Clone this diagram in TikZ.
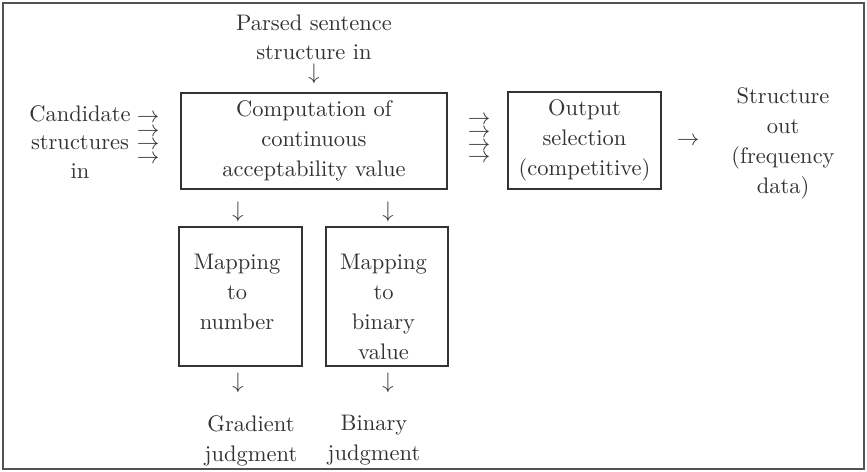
\documentclass[tikz,border=0pt]{standalone}
\usetikzlibrary{positioning}

\definecolor{ink}{gray}{0.2}
\tikzset{
    txt/.style={inner sep=0pt, align=center, text=ink, font=\fontsize{10}{13.3}\selectfont},
    stage/.style={draw=ink, line width=0.6pt, inner sep=0pt},
    arr/.style={inner sep=0pt, text=ink, text height=3.6pt, text depth=-1.4pt}
}

\begin{document}
\begin{tikzpicture}[x=0.4444pt, y=-0.4444pt]

    \useasboundingbox (0,0) rectangle (867,472);
    \draw[ink!85, line width=0.8pt] (3,3) rectangle (864,469);

    % boxes
    \node[stage, txt, minimum width=118.2pt, minimum height=42.7pt] at (314,141) (comp) {Computation of\\continuous\\acceptability value};
    \node[stage, txt, minimum width=68pt, minimum height=43.1pt] at (584.5,140.5) (outsel) {Output\\selection\\(competitive)};
    \node[stage, minimum width=54.7pt, minimum height=61.8pt] at (240.5,296.5) (mapnum) {};
    \node[stage, minimum width=54.2pt, minimum height=61.8pt] at (387,296.5) (mapbin) {};
    \node[txt, anchor=north] at (237,254) (mapnumtxt) {Mapping\\to\\number};
    \node[txt, anchor=north] at (383.5,254) (mapbintxt) {Mapping\\to\\binary\\value};

    % texts in and out
    \node[txt, anchor=north] at (314,14) (parsed) {Parsed sentence\\structure in};
    \node[txt, anchor=north, font=\fontsize{10}{12.7}\selectfont] at (80,105) (cand) {Candidate\\structures\\in};
    \node[txt, anchor=north] at (783,87) (strout) {Structure\\out\\(frequency\\data)};
    \node[txt, anchor=north] at (251,415) (grad) {Gradient\\judgment};
    \node[txt, anchor=north] at (374,415) (bin) {Binary\\judgment};

    % arrows
    \node[arr, text height=6.9pt, text depth=1.9pt] at (314,74) (a0) {$\downarrow$};
    \node[arr] at (148,118) (a1) {$\rightarrow$};
    \node[arr] at (148,132) (a2) {$\rightarrow$};
    \node[arr] at (148,145) (a3) {$\rightarrow$};
    \node[arr] at (148,159) (a4) {$\rightarrow$};
    \node[arr] at (479,120) (a5) {$\rightarrow$};
    \node[arr] at (479,133) (a6) {$\rightarrow$};
    \node[arr] at (479,146) (a7) {$\rightarrow$};
    \node[arr] at (479,158) (a8) {$\rightarrow$};
    \node[arr] at (688,141) (a9) {$\rightarrow$};
    \node[arr, text height=6.9pt, text depth=1.9pt] at (238,212) (a10) {$\downarrow$};
    \node[arr, text height=6.9pt, text depth=1.9pt] at (388,212) (a11) {$\downarrow$};
    \node[arr, text height=6.9pt, text depth=1.9pt] at (238,383) (a12) {$\downarrow$};
    \node[arr, text height=6.9pt, text depth=1.9pt] at (388,383) (a13) {$\downarrow$};

\end{tikzpicture}
\end{document}
